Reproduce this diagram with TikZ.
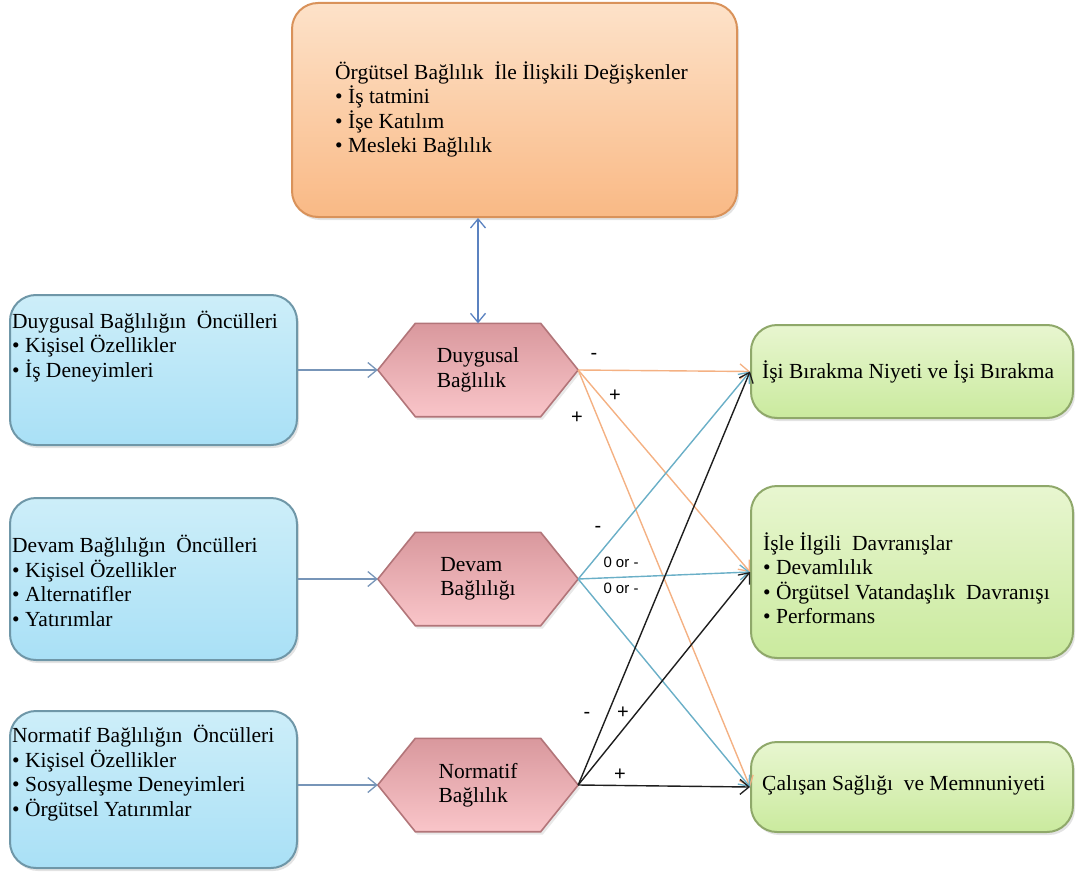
\documentclass[tikz,border=0pt]{standalone}
\usepackage{fontspec}
\setmainfont{Liberation Serif}
\newfontfamily\labfont{Liberation Sans}
\usetikzlibrary{arrows.meta,shadows}
\definecolor{orgline}{HTML}{D9925A}
\definecolor{orgtop}{HTML}{FDE2C9}
\definecolor{orgbot}{HTML}{F9B985}
\definecolor{blueline}{HTML}{6F97A8}
\definecolor{bluetop}{HTML}{CDEEF9}
\definecolor{bluebot}{HTML}{A9E0F6}
\definecolor{pinkline}{HTML}{B27579}
\definecolor{pinktop}{HTML}{D9989D}
\definecolor{pinkmid}{HTML}{F7BCC0}
\definecolor{pinkbot}{HTML}{F9C5C9}
\definecolor{greenline}{HTML}{8FA86A}
\definecolor{greentop}{HTML}{E8F6D0}
\definecolor{greenbot}{HTML}{CAEA9E}
\definecolor{corange}{HTML}{F4B183}
\definecolor{cblue}{HTML}{6AAFC7}
\definecolor{cblack}{HTML}{1E1E1E}
\definecolor{cvert}{HTML}{5B82C0}
\definecolor{cleft}{HTML}{7795B8}
\begin{document}
\begin{tikzpicture}[x=1pt,y=-1pt,
  txt/.style={font=\fontsize{21.5}{24.5}\selectfont, inner sep=0pt, align=left, anchor=west},
  boxbase/.style={rectangle, rounded corners=26pt, line width=2pt,
     drop shadow={opacity=0.22, shadow xshift=2pt, shadow yshift=-3pt}},
  boxtop/.style={boxbase, draw=orgline, top color=orgtop, bottom color=orgbot},
  boxleft/.style={boxbase, draw=blueline, top color=bluetop, bottom color=bluebot},
  boxright/.style={boxbase, draw=greenline, top color=greentop, bottom color=greenbot},
  hexbox/.style={rectangle, minimum width=200pt, minimum height=93pt, inner sep=0pt,
     font=\fontsize{21.5}{24.5}\selectfont, align=left},
  hexfill/.style={line width=1.6pt, draw=pinkline, top color=pinktop, middle color=pinkmid, bottom color=pinkbot,
     drop shadow={opacity=0.18, shadow xshift=2pt, shadow yshift=-3pt}},
  conn/.style={line width=1.4pt, -{Straight Barb[length=9pt,width=15pt,line width=1.3pt]}},
  lab/.style={font=\labfont\fontsize{20}{20}\selectfont, inner sep=0pt},
  labsmall/.style={font=\labfont\fontsize{15}{15}\selectfont, inner sep=0pt}
]
\useasboundingbox (0,0) rectangle (1078,872);

% boxes
\node[boxtop, minimum width=445pt, minimum height=214pt] (top) at (514.5,110) {};
\node[boxleft, minimum width=287pt, minimum height=150pt] (l1) at (153.5,370) {};
\node[boxleft, minimum width=287pt, minimum height=162pt] (l2) at (153.5,579) {};
\node[boxleft, minimum width=287pt, minimum height=157pt] (l3) at (153.5,789.5) {};
\node[boxright, minimum width=322pt, minimum height=93pt] (r1) at (912,371.5) {};
\node[boxright, minimum width=322pt, minimum height=172pt] (r2) at (912,572) {};
\node[boxright, minimum width=322pt, minimum height=90pt] (r3) at (912,787) {};

% hexagons (frames)
\node[hexbox] (h1) at (478,370) {};
\node[hexbox] (h2) at (478,579) {};
\node[hexbox] (h3) at (478,785) {};
\foreach \h in {h1,h2,h3}{
  \path[hexfill] (\h.west) -- ([xshift=37.5pt]\h.north west) -- ([xshift=-37.5pt]\h.north east)
    -- (\h.east) -- ([xshift=-37.5pt]\h.south east) -- ([xshift=37.5pt]\h.south west) -- cycle;
}
\node[hexbox] (t1) at (h1.center) {Duygusal\\Bağlılık};
\node[hexbox] (t2) at (h2.center) {Devam\\Bağlılığı};
\node[hexbox] (t3) at (h3.center) {Normatif\\Bağlılık};

% texts
\node[txt] (ttop) at (335,109.5) {Örgütsel Bağlılık~ İle İlişkili Değişkenler\\• İş tatmini\\• İşe Katılım\\• Mesleki Bağlılık};
\node[txt] (tl1) at (12,346.5) {Duygusal Bağlılığın~ Öncülleri\\• Kişisel Özellikler\\• İş Deneyimleri};
\node[txt] (tl2) at (12,581) {Devam Bağlılığın~ Öncülleri\\• Kişisel Özellikler\\• Alternatifler\\• Yatırımlar};
\node[txt] (tl3) at (12,773) {Normatif Bağlılığın~ Öncülleri\\• Kişisel Özellikler\\• Sosyalleşme Deneyimleri\\• Örgütsel Yatırımlar};
\node[txt] (tr1) at (762,372) {İşi Bırakma Niyeti ve İşi Bırakma};
\node[txt] (tr2) at (763,578) {İşle İlgili~ Davranışlar\\• Devamlılık\\• Örgütsel Vatandaşlık~ Davranışı\\• Performans};
\node[txt] (tr3) at (762,785) {Çalışan Sağlığı~ ve Memnuniyeti};

% vertical double arrow
\draw[cvert, line width=1.5pt, {Straight Barb[length=9pt,width=15pt,line width=1.3pt]}-{Straight Barb[length=9pt,width=15pt,line width=1.3pt]}]
  (top.south -| h1.north) -- (h1.north);

% left arrows
\draw[conn, cleft, line width=2pt] (l1.east) -- (h1.west);
\draw[conn, cleft, line width=2pt] (l2.east) -- (h2.west);
\draw[conn, cleft, line width=2pt] (h3.west -| l3.east) -- (h3.west);

% connectors to outcomes
\draw[conn, corange] (h1.east) -- (r1.west);
\draw[conn, corange] (h1.east) -- (r2.west);
\draw[conn, corange] (h1.east) -- (r3.west);
\draw[conn, cblue] (h2.east) -- (r1.west);
\draw[conn, cblue] (h2.east) -- (r2.west);
\draw[conn, cblue] (h2.east) -- (r3.west);
\draw[conn, cblack] (h3.east) -- (r1.west);
\draw[conn, cblack] (h3.east) -- (r2.west);
\draw[conn, cblack] (h3.east) -- (r3.west);

% labels
\node[lab] (m1) at (594,356) {-};
\node[lab] (p1) at (615,396) {+};
\node[lab] (p2) at (577,418) {+};
\node[lab] (m2) at (598,529) {-};
\node[labsmall] (z1) at (621,562) {0 or -};
\node[labsmall] (z2) at (621,588) {0 or -};
\node[lab] (m3) at (587,715) {-};
\node[lab] (p3) at (623,713) {+};
\node[lab] (p4) at (620,775) {+};
\end{tikzpicture}
\end{document}
